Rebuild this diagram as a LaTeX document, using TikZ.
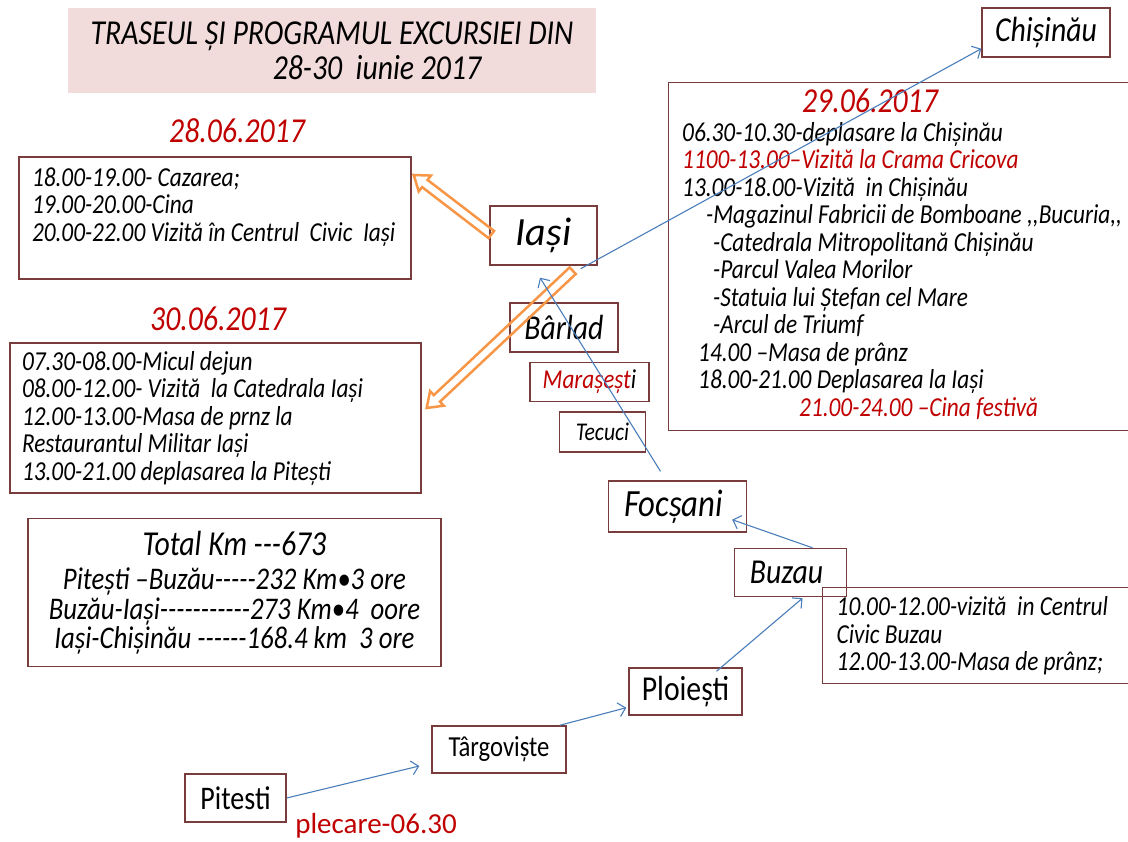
\documentclass[tikz,border=0pt]{standalone}
\usepackage{fontspec}
\newfontfamily\cf{Carlito}
\newfontfamily\cfn{Carlito}[FakeStretch=0.85]
\usetikzlibrary{arrows.meta,calc}
\definecolor{boxc}{RGB}{120,60,60}
\definecolor{redt}{RGB}{192,0,0}
\definecolor{bluel}{RGB}{74,126,187}
\definecolor{orangel}{RGB}{247,150,70}
\definecolor{titlef}{RGB}{242,220,219}
\newcommand{\fs}[2]{\fontsize{#1}{#2}\selectfont}
\tikzset{
  box/.style={draw=boxc, line width=1.4pt, inner sep=0pt},
  city/.style={box, font=\cfn\itshape\fs{#1}{#1}},
  town/.style={box, font=\cfn\fs{#1}{#1}},
  date/.style={text=redt, inner sep=0pt, font=\cfn\itshape\fs{35}{35}},
  info/.style={box, align=flush left, font=\cfn\itshape\fs{27.4}{27.5}},
  road/.style={draw=bluel, line width=1.1pt, -{Straight Barb[length=7pt,width=14pt,line width=1.1pt]}},
  hollow/.style={draw=orangel, line width=2.5pt, line join=miter}
}
\newcommand{\hollowarrow}[2]{%
  \draw[hollow] ($(#1)!4.5pt!90:(#2)$) -- ($($(#2)!14pt!(#1)$)!4.5pt!-90:(#1)$)
    -- ($($(#2)!14pt!(#1)$)!10pt!-90:(#1)$) -- (#2)
    -- ($($(#2)!14pt!(#1)$)!10pt!90:(#1)$) -- ($($(#2)!14pt!(#1)$)!4.5pt!90:(#1)$)
    -- ($(#1)!4.5pt!-90:(#2)$) -- cycle;}
\begin{document}
\cfn
\begin{tikzpicture}[x=1pt,y=-1pt,font=\cfn]
\useasboundingbox (0,0) rectangle (1128,842);
\fill[white] (0,0) rectangle (1128,842);

% title
\node[fill=titlef, minimum width=528pt, minimum height=85pt, inner sep=0pt, align=center,
  font=\cfn\itshape\fs{35}{35}] (title) at (332,50.5)
  {TRASEUL ȘI PROGRAMUL EXCURSIEI DIN\\\hspace*{90pt}28-30\ \ iunie 2017};

% day 28
\node[date] (d28) at (237,131) {28.06.2017};
\node[info, minimum width=392pt, minimum height=122pt, text width=366pt, inner xsep=13pt] (box28) at (215,218)
  {18.00-19.00- Cazarea;\\19.00-20.00-Cina\\\mbox{20.00-22.00 Vizită în Centrul\ \ Civic\ \ Iași}\\\mbox{}};

% day 30
\node[date] (d30) at (218,319) {30.06.2017};
\node[info, minimum width=411pt, minimum height=150pt, text width=387pt, inner xsep=12pt] (box30) at (215.5,418)
  {07.30-08.00-Micul dejun\\08.00-12.00- Vizită\ \ la Catedrala Iași\\12.00-13.00-Masa de prnz la\\Restaurantul Militar Iași\\13.00-21.00 deplasarea la Pitești};

% total
\node[box, align=center, minimum width=413pt, minimum height=148pt, font=\cfn\itshape\fs{31.5}{29.5}] (total) at (234.5,592.5)
  {{\fs{35}{36}Total Km ---673}\\[5pt]Pitești –Buzău-----232 Km•3 ore\\Buzău-Iași-----------273 Km•4\ \ oore\\Iași-Chișinău ------168.4 km\ \ 3 ore};

% day 29
\node[box, anchor=north west, minimum width=480pt, minimum height=348pt] (box29) at (668,82) {};
\node[date] (d29) at (870,101) {29.06.2017};
\node[anchor=north west, inner sep=0pt, align=flush left, font=\cfn\itshape\fs{27.4}{27.5}] (txt29) at (682,122)
  {06.30-10.30-deplasare la Chișinău\\
   {\color{redt}1100-13.00–Vizită la Crama Cricova}\\
   13.00-18.00-Vizită\ \ in Chișinău\\
   \hspace*{24pt}-Magazinul Fabricii de Bomboane ,,Bucuria,,\\
   \hspace*{31pt}-Catedrala Mitropolitană Chișinău\\
   \hspace*{31pt}-Parcul Valea Morilor\\
   \hspace*{31pt}-Statuia lui Ștefan cel Mare\\
   \hspace*{31pt}-Arcul de Triumf\\
   \hspace*{16pt}14.00 –Masa de prânz\\
   \hspace*{16pt}18.00-21.00 Deplasarea la Iași\\
   \hspace*{117pt}{\color{redt}21.00-24.00 –Cina festivă}};

% cities
\node[box, font=\cf\itshape\fs{40}{40}, minimum width=107pt, minimum height=59pt] (iasi) at (543.5,235.5) {Iași};
\node[city=35, minimum width=108pt, minimum height=49pt] (barlad) at (564,327.5) {Bârlad};
\node[city=27.3, minimum width=119pt, minimum height=39pt] (mara) at (589.5,382) {{\color{redt}Marașeșt}i};
\node[city=25.5, minimum width=86pt, minimum height=40pt] (tecuci) at (602.5,432) {Tecuci};
\node[city=38.5, minimum width=138pt, minimum height=51pt] (foc) at (677.5,506.5) {Focșani\hspace*{8pt}};
\node[city=35, minimum width=112pt, minimum height=48pt] (buz) at (790.5,572.5) {Buzau\hspace*{8pt}};
\node[info, anchor=north west, minimum width=320pt, minimum height=96pt, text width=292pt, inner xsep=14pt] (buzinfo) at (822,587)
  {10.00-12.00-vizită\ \ in Centrul\\Civic Buzau\\12.00-13.00-Masa de prânz;};
\node[town=35, minimum width=113pt, minimum height=47pt] (ploi) at (685.5,691.5) {Ploiești};
\node[town=29, minimum width=134pt, minimum height=47pt] (targ) at (499,749.5) {Târgoviște};
\node[town=33, minimum width=101pt, minimum height=48pt] (pit) at (235.5,798) {Pitesti};
\node[text=redt, inner sep=0pt, font=\cf\fs{29}{30}] (plec) at (376,825.5) {plecare-06.30};
\node[city=35, minimum width=128pt, minimum height=49pt] (chis) at (1046,32.5) {Chișinău};

% orange hollow arrows
\coordinate (o1s) at ($(iasi.west)+(2,-1)$);
\coordinate (o1e) at ($(box28.east)+(2,-43)$);
\coordinate (o2s) at ($(iasi.south east)+(-25,5)$);
\coordinate (o2e) at ($(box30.east)+(5,-10)$);
\hollowarrow{o1s}{o1e}
\hollowarrow{o2s}{o2e}

% route
\draw[road] (pit.east) -- ($(targ.west)+(-12,16.5)$);
\draw[road] ($(targ.north east)+(-7,0)$) -- ($(ploi.south west)+(-2,-8)$);
\draw[road] ($(ploi.north)+(31,4)$) -- ($(buz.south)+(12,1)$);
\draw[road] ($(buz.north)+(22,0)$) -- ($(foc.south east)+(-15,-13)$);
\draw[road] ($(foc.north)+(-17,-9)$) -- ($(iasi.south)+(-3.5,12)$);
\draw[road] ($(iasi.south east)+(-17,3)$) -- ($(chis.south west)+(0,-9)$);
\end{tikzpicture}
\end{document}
